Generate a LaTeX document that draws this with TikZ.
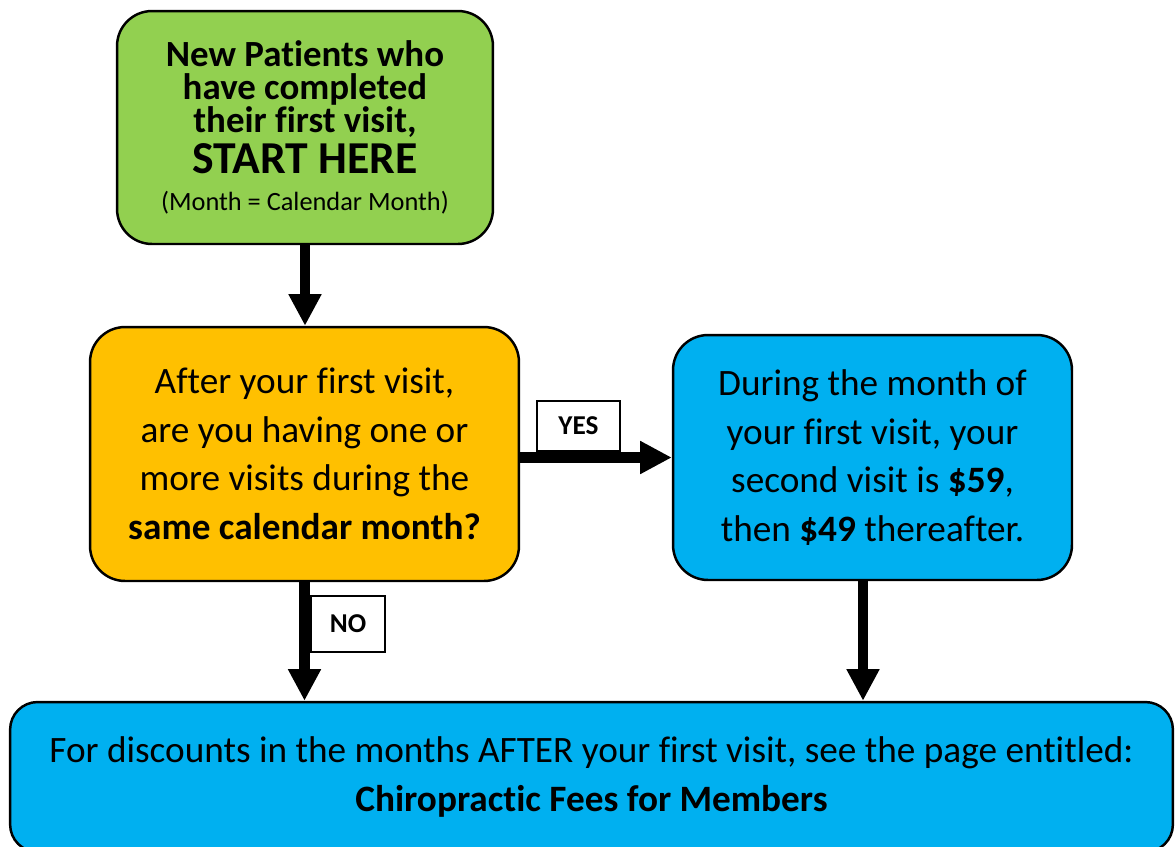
\documentclass[tikz,border=0pt]{standalone}
\usepackage{fontspec}
\setmainfont{Carlito}[Ligatures=NoCommon]
\usetikzlibrary{arrows.meta, positioning}

\definecolor{startgreen}{HTML}{92D050}
\definecolor{askorange}{HTML}{FFC000}
\definecolor{feeblue}{HTML}{00B0F0}

\begin{document}
\begin{tikzpicture}[x=0.02cm, y=-0.02cm]


% GLOBAL SETTINGS
\newcommand{\bodyfont}{\fontsize{21.2}{27.6}\selectfont}
\newcommand{\tagfont}{\fontsize{15.5}{15.5}\selectfont\bfseries}
\newlength{\shaft}
\setlength{\shaft}{6.2pt}
\tikzset{
  box/.style={draw=black, line width=1.4pt, rounded corners=0.7cm,
    align=center, inner sep=0pt, font=\bodyfont},
  tag/.style={draw=black, line width=0.6pt, fill=white, inner sep=0pt,
    font=\tagfont},
  flow/.style={line width=\shaft, -{Triangle[width=17.6pt, length=18pt]}}
}
\useasboundingbox (0,0) rectangle (1175,846);

% BOXES
\node[box, fill=startgreen, minimum width=7.52cm, minimum height=4.66cm,
  font=\fontsize{21}{18.9}\selectfont\bfseries] (start) at (305,127.5)
  {New Patients who\\ have completed\\ their first visit,\\[2pt]
   {\fontsize{26}{26}\selectfont START HERE}\\[2.5pt]
   {\fontsize{15}{15}\selectfont\mdseries (Month = Calendar Month)}};
\node[box, fill=askorange, minimum width=8.58cm, minimum height=5.08cm]
  (ask) at (304.5,454)
  {After your first visit,\\ are you having one or\\ more visits during the\\
   \textbf{same calendar month?}};
\node[box, fill=feeblue, minimum width=7.98cm, minimum height=4.9cm]
  (fee) at (872.5,457.5)
  {During the month of\\ your first visit, your\\
   second visit is \textbf{\$59},\\ then \textbf{\$49} thereafter.};
\node[box, fill=feeblue, rounded corners=0.55cm, minimum width=23.26cm,
  minimum height=3cm] (info) at (591.5,777)
  {For discounts in the months AFTER your first visit, see the page entitled:\\
   \textbf{Chiropractic Fees for Members}};

% LABELS
\node[tag, minimum width=1.66cm, minimum height=1cm] (yes) at (578.5,426) {YES};
\node[tag, minimum width=1.48cm, minimum height=1.12cm] (no) at (348,624) {NO};

% EDGES
\coordinate (drop) at (863,0);
\draw[flow] (start.south) -- (start.south |- ask.north);
\draw[flow] (ask.east |- fee.west) -- (fee.west);
\draw[flow] (ask.south) -- (ask.south |- info.north);
\draw[flow] (drop |- fee.south) -- (drop |- info.north);

\end{tikzpicture}
\end{document}
